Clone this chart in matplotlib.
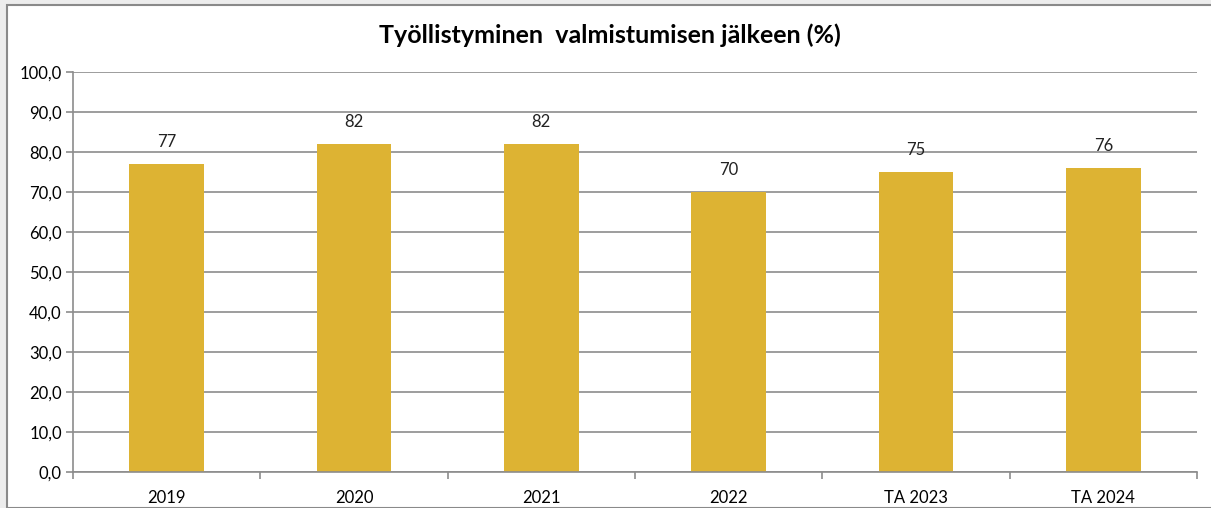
import matplotlib.pyplot as plt
from matplotlib.patches import Rectangle
import numpy as np

plt.rcParams["font.family"] = ["Lato", "DejaVu Sans"]

# Data
categories = ["2019", "2020", "2021", "2022", "TA 2023", "TA 2024"]
values = [77, 82, 82, 70, 75, 76]
title = "Työllistyminen  valmistumisen jälkeen (%)"

BAR_COLOR = "#DDB333"
GRID_COLOR = "#8C8C8C"

W, H = 1211, 508
fig = plt.figure(figsize=(W / 100, H / 100), dpi=100)
fig.patch.set_facecolor("#EDEDED")

# chart frame (runs off the right and bottom edges)
frame = Rectangle((6.5 / W, 0), 1.2, 1 - 4.5 / H, transform=fig.transFigure,
                  facecolor="white", edgecolor="#8A8A8A", linewidth=1.5, zorder=-1)
fig.patches.append(frame)

ax = fig.add_axes([73 / W, 1 - 472 / H, (1197 - 73) / W, (472 - 72) / H])
ax.set_facecolor("none")

x = np.arange(len(categories))
bars = ax.bar(x, values, width=0.4, color=BAR_COLOR, zorder=2)
for bar, val in zip(bars, values):
    ax.annotate(str(val), (bar.get_x() + bar.get_width() / 2, val),
                xytext=(0, 10), textcoords="offset points",
                ha="center", va="bottom", fontsize=12, color="#222222")

ax.set_xlim(-0.5, len(categories) - 0.5)
ax.set_ylim(0, 100)
ax.set_yticks(np.arange(0, 101, 10))
ax.set_yticklabels([f"{v:.1f}".replace(".", ",") for v in np.arange(0, 101, 10)])
ax.yaxis.grid(True, color=GRID_COLOR, linewidth=1.2, zorder=0)
ax.set_axisbelow(True)

ax.set_xticks(x)
ax.set_xticklabels(categories)
ax.set_xticks(np.arange(-0.5, len(categories)), minor=True)
ax.tick_params(axis="x", which="major", length=0, pad=13, labelsize=12)
ax.tick_params(axis="x", which="minor", length=5, color=GRID_COLOR, width=1.2)
ax.tick_params(axis="y", length=5, color=GRID_COLOR, width=1.2, labelsize=12, pad=3)

for s in ["top", "right"]:
    ax.spines[s].set_visible(False)
for s in ["left", "bottom"]:
    ax.spines[s].set_color(GRID_COLOR)
    ax.spines[s].set_linewidth(1.2)

fig.text(610 / W, 1 - 35 / H, title, ha="center", va="center",
         fontsize=18, fontweight="bold", color="black")

fig.savefig("out.png", dpi=100, facecolor=fig.get_facecolor())
